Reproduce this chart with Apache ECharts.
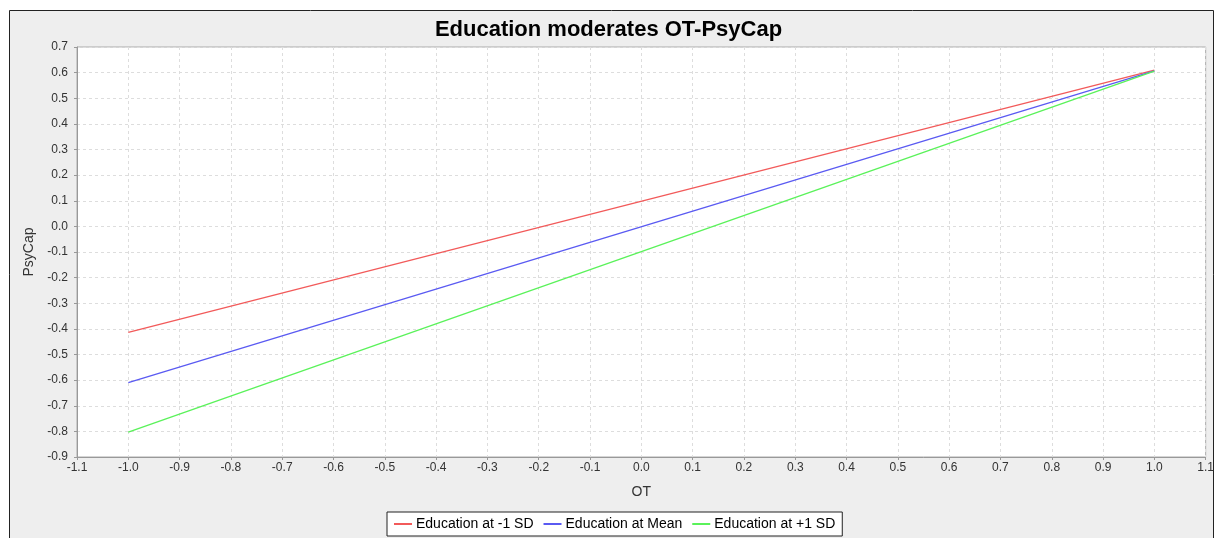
<!DOCTYPE html>
<html><head><meta charset="utf-8">
<script src="https://cdn.jsdelivr.net/npm/echarts@6/dist/echarts.min.js"></script>
<style>html,body{margin:0;padding:0;background:#fff}#c{width:1217px;height:538px}</style>
</head><body><div id="c"></div>
<script>
const titleText = 'Education moderates OT-PsyCap';
const xName = 'OT';
const yName = 'PsyCap';
const otValues = [-1.0, 1.0];
const seriesNames = ['Education at -1 SD', 'Education at Mean', 'Education at +1 SD'];
const lowSD = [-0.414, 0.610];
const meanEd = [-0.610, 0.607];
const highSD = [-0.803, 0.606];
const seriesColors = ['#f25a5a', '#5a5af2', '#5af25a'];

const allValues = [lowSD, meanEd, highSD];
const chart = echarts.init(document.getElementById('c'), null, {renderer: 'canvas'});
const font = 'Liberation Sans, Arial, sans-serif';
chart.setOption({
  backgroundColor: '#ffffff',
  animation: false,
  graphic: [{
    type: 'rect', z: -10, silent: true,
    shape: {x: 9.5, y: 10.5, width: 1204, height: 540},
    style: {fill: '#eeeeee', stroke: '#222', lineWidth: 1}
  }],
  title: {
    text: titleText, left: 'center', top: 14,
    textStyle: {fontFamily: font, fontSize: 22, fontWeight: 'bold', color: '#000'}
  },
  grid: {left: 77, top: 47, width: 1134, height: 410, show: true,
         backgroundColor: '#fff', borderColor: '#aaa', borderWidth: 1},
  legend: {
    data: seriesNames, left: 387, top: 512,
    backgroundColor: '#fff', borderColor: '#222', borderWidth: 1,
    padding: [5, 7, 5, 7], itemGap: 10, itemWidth: 18, itemHeight: 2, icon: 'rect',
    textStyle: {fontFamily: font, fontSize: 14, color: '#000', padding: [0, 0, 0, -1]}
  },
  xAxis: {
    type: 'value', min: -1.1, max: 1.1, interval: 0.1,
    name: xName, nameLocation: 'middle', nameGap: 28,
    nameTextStyle: {fontFamily: font, fontSize: 14, color: '#333'},
    axisLine: {show: true, onZero: false, lineStyle: {color: '#999', width: 1}},
    axisTick: {show: true, length: 3, lineStyle: {color: '#999'}},
    axisLabel: {fontFamily: font, fontSize: 12, color: '#333', margin: 5,
                formatter: v => v.toFixed(1)},
    splitLine: {show: true, lineStyle: {color: '#ddd', type: [3, 3]}}
  },
  yAxis: {
    type: 'value', min: -0.9, max: 0.7, interval: 0.1,
    name: yName, nameLocation: 'middle', nameGap: 33, nameRotate: 90,
    nameTextStyle: {fontFamily: font, fontSize: 14, color: '#333'},
    axisLine: {show: true, onZero: false, lineStyle: {color: '#999', width: 1}},
    axisTick: {show: true, length: 3, lineStyle: {color: '#999'}},
    axisLabel: {fontFamily: font, fontSize: 12, color: '#333', margin: 9,
                formatter: v => v.toFixed(1)},
    splitLine: {show: true, lineStyle: {color: '#ddd', type: [3, 3]}}
  },
  series: seriesNames.map((n, i) => ({
    name: n, type: 'line', showSymbol: false, symbol: 'none',
    color: seriesColors[i],
    lineStyle: {width: 1.3, color: seriesColors[i]},
    data: otValues.map((x, j) => [x, allValues[i][j]])
  }))
});
</script></body></html>
